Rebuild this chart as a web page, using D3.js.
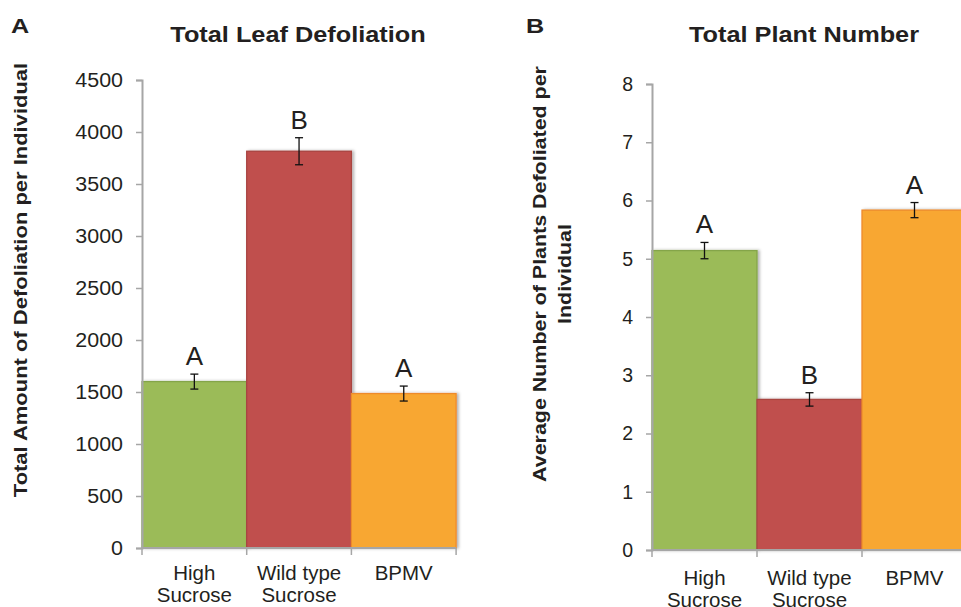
<!DOCTYPE html>
<html>
<head>
<meta charset="utf-8">
<title>Defoliation</title>
<script src="https://d3js.org/d3.v7.min.js"></script>
<style>
  html, body { margin: 0; padding: 0; background: #fff; }
  svg { display: block; font-family: "Liberation Sans", Arial, Helvetica, sans-serif; }
</style>
</head>
<body>
<div id="chart"></div>
<script>
  // data
  var categories = [["High", "Sucrose"], ["Wild type", "Sucrose"], ["BPMV"]];
  var colors = ["#9bbb59", "#c0504d", "#f8a731"];
  var strokes = ["#84a54a", "#a94441", "#ee8a2c"];

  var leafMeans = [1600, 3815, 1485];
  var leafErr = [72, 130, 72];
  var leafLetters = ["A", "B", "A"];
  var leafTicks = [0, 500, 1000, 1500, 2000, 2500, 3000, 3500, 4000, 4500];

  var plantMeans = [5.14, 2.585, 5.835];
  var plantErr = [0.14, 0.115, 0.13];
  var plantLetters = ["A", "B", "A"];
  var plantTicks = [0, 1, 2, 3, 4, 5, 6, 7, 8];

  var W = 961, H = 607;
  var svg = d3.select("#chart").append("svg").attr("width", W).attr("height", H);

  var defs = svg.append("defs");
  defs.append("filter").attr("id", "shadow")
      .attr("x", "-10%").attr("y", "-10%").attr("width", "130%").attr("height", "130%")
    .append("feDropShadow")
      .attr("dx", 2).attr("dy", 0).attr("stdDeviation", 1.5)
      .attr("flood-color", "#000").attr("flood-opacity", 0.3);

  // the original type is a bit wider than Liberation Sans; widen glyphs
  function stretch(sel, f) {
    sel.each(function() {
      var len = this.getComputedTextLength();
      d3.select(this).attr("textLength", len * f).attr("lengthAdjust", "spacingAndGlyphs");
    });
  }

  function panel(o) {
    var g = svg.append("g");
    var y = d3.scaleLinear().domain(o.domain).range([o.bottom, o.top]);
    var x = d3.scaleBand().domain(d3.range(categories.length))
        .range([o.left, o.left + o.band * categories.length]).padding(0);

    // panel letter and title
    g.append("text").attr("x", o.tagX).attr("y", 33)
        .attr("font-size", 21).attr("font-weight", "bold").attr("fill", "#231f20")
        .text(o.tag).call(stretch, 1.2);
    g.append("text").attr("x", o.titleX).attr("y", 42).attr("text-anchor", "middle")
        .attr("font-size", 22).attr("font-weight", "bold").attr("fill", "#231f20")
        .text(o.title).call(stretch, 1.15);

    // bars
    g.selectAll("rect.bar").data(o.means).join("rect")
        .attr("class", "bar")
        .attr("x", function(d, i) { return x(i); })
        .attr("width", x.bandwidth())
        .attr("y", function(d) { return y(d); })
        .attr("height", function(d) { return o.bottom - y(d); })
        .attr("fill", function(d, i) { return colors[i]; })
        .attr("stroke", function(d, i) { return strokes[i]; })
        .attr("stroke-width", 1.3)
        .attr("filter", "url(#shadow)");

    // error bars
    var eb = g.selectAll("g.err").data(o.means).join("g").attr("class", "err")
        .attr("stroke", "#111").attr("stroke-width", 1.3);
    eb.append("line")
        .attr("x1", function(d, i) { return x(i) + x.bandwidth() / 2; })
        .attr("x2", function(d, i) { return x(i) + x.bandwidth() / 2; })
        .attr("y1", function(d, i) { return y(d + o.err[i]); })
        .attr("y2", function(d, i) { return y(d - o.err[i]); });
    [1, -1].forEach(function(s) {
      eb.append("line")
          .attr("x1", function(d, i) { return x(i) + x.bandwidth() / 2 - 4; })
          .attr("x2", function(d, i) { return x(i) + x.bandwidth() / 2 + 4; })
          .attr("y1", function(d, i) { return y(d + s * o.err[i]); })
          .attr("y2", function(d, i) { return y(d + s * o.err[i]); });
    });

    // significance letters
    g.selectAll("text.sig").data(o.means).join("text")
        .attr("class", "sig")
        .attr("x", function(d, i) { return x(i) + x.bandwidth() / 2; })
        .attr("y", function(d, i) { return y(d + o.err[i]) - 9; })
        .attr("text-anchor", "middle").attr("font-size", 26).attr("fill", "#231f20")
        .text(function(d, i) { return o.letters[i]; });

    // y axis
    var yAxis = g.append("g").attr("transform", "translate(" + o.left + ",0)")
        .call(d3.axisLeft(y).tickValues(o.ticks).tickFormat(d3.format("d"))
          .tickSize(6).tickPadding(13));
    yAxis.select(".domain").attr("stroke", "#a6a6a6").attr("stroke-width", 2);
    yAxis.selectAll(".tick line").attr("stroke", "#a6a6a6").attr("stroke-width", 1.5);
    yAxis.selectAll(".tick text").attr("font-size", 19.5).attr("fill", "#231f20")
        .attr("font-family", "Liberation Sans, Arial, sans-serif")
        .call(stretch, o.tickStretch);

    // x axis: baseline with ticks at band edges
    var xg = g.append("g");
    xg.append("line").attr("x1", o.left).attr("x2", o.left + o.band * categories.length)
        .attr("y1", o.bottom).attr("y2", o.bottom)
        .attr("stroke", "#a6a6a6").attr("stroke-width", 2);
    xg.selectAll("line.edge").data(d3.range(categories.length + 1)).join("line")
        .attr("class", "edge")
        .attr("x1", function(d) { return o.left + d * x.step(); })
        .attr("x2", function(d) { return o.left + d * x.step(); })
        .attr("y1", o.bottom).attr("y2", o.bottom + 7)
        .attr("stroke", "#a6a6a6").attr("stroke-width", 1.5);

    // category labels
    categories.forEach(function(lines, i) {
      lines.forEach(function(line, j) {
        xg.append("text")
            .attr("x", x(i) + x.bandwidth() / 2)
            .attr("y", o.bottom + o.catDy + j * 22)
            .attr("text-anchor", "middle").attr("font-size", 20.5).attr("fill", "#231f20")
            .text(line);
      });
    });

    // y title
    o.yTitle.forEach(function(line, j) {
      g.append("text")
          .attr("transform", "translate(" + (o.yTitleX + j * 25) + "," + o.yTitleY + ") rotate(-90)")
          .attr("text-anchor", "middle").attr("font-size", 18).attr("font-weight", "bold")
          .attr("fill", "#231f20")
          .text(line).call(stretch, o.yTitleStretch);
    });
  }

  panel({
    tag: "A", tagX: 11, title: "Total Leaf Defoliation", titleX: 298,
    domain: [0, 4500], top: 80, bottom: 548, left: 142, band: 104.7,
    means: leafMeans, err: leafErr, letters: leafLetters, ticks: leafTicks,
    tickStretch: 1.1,
    catDy: 32, yTitle: ["Total Amount of Defoliation per Individual"],
    yTitleX: 27, yTitleY: 280, yTitleStretch: 1.22
  });

  panel({
    tag: "B", tagX: 526, title: "Total Plant Number", titleX: 804,
    domain: [0, 8], top: 84, bottom: 550, left: 652, band: 105,
    means: plantMeans, err: plantErr, letters: plantLetters, ticks: plantTicks,
    tickStretch: 1.0,
    catDy: 35, yTitle: ["Average Number of Plants Defoliated per", "Individual"],
    yTitleX: 546, yTitleY: 274, yTitleStretch: 1.19
  });
</script>
</body>
</html>
